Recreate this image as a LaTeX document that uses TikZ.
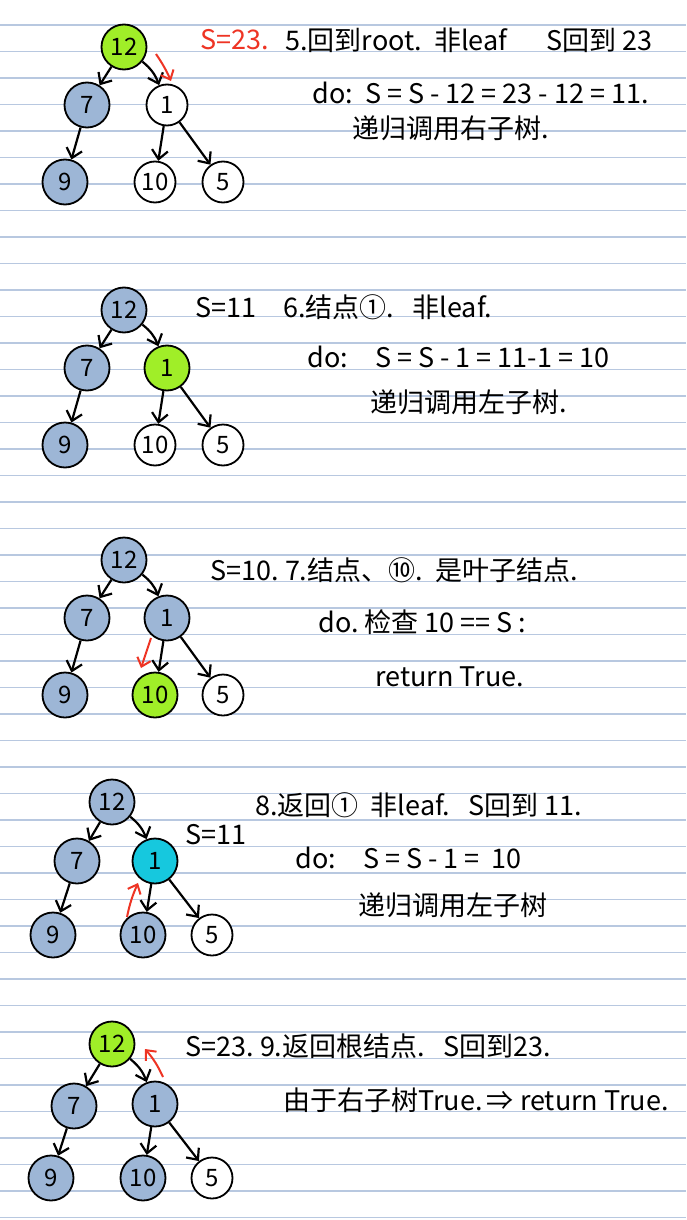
\documentclass[tikz,border=0pt]{standalone}
\usepackage{fontspec}
\newfontfamily\cjk{Noto Sans CJK SC}
\usetikzlibrary{arrows.meta, positioning}
\definecolor{rulecol}{RGB}{184,200,224}
\definecolor{nodeblue}{RGB}{157,182,214}
\definecolor{nodegreen}{RGB}{160,238,40}
\definecolor{nodecyan}{RGB}{22,200,222}
\definecolor{penred}{RGB}{238,52,36}

\begin{document}
\begin{tikzpicture}[x=0.5pt, y=-0.5pt,
    nd/.style={circle, draw, line width=0.9pt, fill=white, minimum size=20.5pt, inner sep=0pt,
               font=\cjk\fontsize{12}{12}\selectfont},
    visit/.style={nd, fill=nodeblue, minimum size=22.5pt},
    now/.style={nd, fill=nodegreen, minimum size=22.5pt},
    ret/.style={nd, fill=nodecyan, minimum size=22.5pt},
    arr/.style={-{Straight Barb[length=4.5pt, width=8pt]}, line width=1.1pt},
    redarr/.style={-{Straight Barb[length=4pt, width=7pt]}, line width=1pt, penred},
    note/.style={anchor=west, inner sep=0pt, font=\cjk\fontsize{13.5}{15}\selectfont},
    on grid,
]
    \fill[white] (0,0) rectangle (686,1220);
    \useasboundingbox (0,0) rectangle (686,1220);
    % ruled paper
    \foreach \k in {0,...,45}
        \draw[rulecol, line width=0.8pt] (0,{25+26.5*\k}) -- (686,{25+26.5*\k});

    % step 5
    \node[now] (r1) at (124,47) {12};
    \node[visit, below left=29pt and 18.5pt of r1] (s1) {7};
    \node[nd, below right=29pt and 21.5pt of r1] (o1) {1};
    \node[visit, below left=38.5pt and 11pt of s1] (n1) {9};
    \node[nd, below left=38.5pt and 6pt of o1] (t1) {10};
    \node[nd, below right=38.5pt and 28pt of o1] (f1) {5};
    \draw[arr] (r1) -- (s1);
    \draw[arr] (r1) to[bend left=15] (o1);
    \draw[arr] (s1) -- (n1);
    \draw[arr] (o1) -- (t1);
    \draw[arr] (o1) -- (f1);
    \coordinate (a1) at (156,54);
    \coordinate (b1) at (171,81);
    \draw[redarr] (a1) to[bend left=5] (b1);
    \node[note, text=penred] (sum1) at (200,40) {S=23.};
    \node[note] (l1a) at (285,40) {5.回到root.\ \ 非leaf\quad\ \ S回到\ 23};
    \node[note] (l1b) at (312,93) {do:\ \ S =\ S - 12 = 23 - 12 = 11.};
    \node[note] (l1c) at (352,128) {递归调用右子树.};

    % step 6
    \node[visit] (r2) at (124,310) {12};
    \node[visit, below left=29pt and 18.5pt of r2] (s2) {7};
    \node[now, below right=29pt and 21.5pt of r2] (o2) {1};
    \node[visit, below left=38.5pt and 11pt of s2] (n2) {9};
    \node[nd, below left=38.5pt and 6pt of o2] (t2) {10};
    \node[nd, below right=38.5pt and 28pt of o2] (f2) {5};
    \draw[arr] (r2) -- (s2);
    \draw[arr] (r2) to[bend left=15] (o2);
    \draw[arr] (s2) -- (n2);
    \draw[arr] (o2) -- (t2);
    \draw[arr] (o2) -- (f2);
    \node[note] (l2a) at (195,307) {S=11\quad 6.结点①.\ \ \ 非leaf.};
    \node[note] (l2b) at (307,357) {do:\quad S = S - 1 = 11-1 = 10};
    \node[note] (l2c) at (370,402) {递归调用左子树.};

    % step 7
    \node[visit] (r3) at (124,560) {12};
    \node[visit, below left=29pt and 18.5pt of r3] (s3) {7};
    \node[visit, below right=29pt and 21.5pt of r3] (o3) {1};
    \node[visit, below left=38.5pt and 11pt of s3] (n3) {9};
    \node[now, below left=38.5pt and 6pt of o3] (t3) {10};
    \node[nd, below right=38.5pt and 28pt of o3] (f3) {5};
    \draw[arr] (r3) -- (s3);
    \draw[arr] (r3) to[bend left=15] (o3);
    \draw[arr] (s3) -- (n3);
    \draw[arr] (o3) -- (t3);
    \draw[arr] (o3) -- (f3);
    \coordinate (a3) at (151,638);
    \coordinate (b3) at (141,668);
    \draw[redarr] (a3) -- (b3);
    \node[note] (l3a) at (210,570) {S=10.\ 7.结点、⑩.\ \ 是叶子结点.};
    \node[note] (l3b) at (318,622) {do.\ 检查\ 10 == S\ :};
    \node[note] (l3c) at (375,677) {return True.};

    % step 8
    \node[visit] (r4) at (112,802) {12};
    \node[visit, below left=29.5pt and 17.5pt of r4] (s4) {7};
    \node[ret, below right=29.5pt and 21.5pt of r4] (o4) {1};
    \node[visit, below left=37pt and 12pt of s4] (n4) {9};
    \node[visit, below left=37pt and 6pt of o4] (t4) {10};
    \node[nd, below right=37pt and 28.5pt of o4] (f4) {5};
    \draw[arr] (r4) -- (s4);
    \draw[arr] (r4) to[bend left=15] (o4);
    \draw[arr] (s4) -- (n4);
    \draw[arr] (o4) -- (t4);
    \draw[arr] (o4) -- (f4);
    \coordinate (a4) at (127,917);
    \coordinate (b4) at (138,883);
    \draw[redarr] (a4) to[bend left=6] (b4);
    \node[note] (sum4) at (185,835) {S=11};
    \node[note] (l4a) at (255,805) {8.返回①\ \ 非leaf.\ \ \ S回到\ 11.};
    \node[note] (l4b) at (295,858) {do:\quad S = S - 1 = \ 10};
    \node[note] (l4c) at (358,905) {递归调用左子树};

    % step 9
    \node[now] (r5) at (112,1044) {12};
    \node[visit, below left=31pt and 19pt of r5] (s5) {7};
    \node[visit, below right=30pt and 21.5pt of r5] (o5) {1};
    \node[visit, below left=36pt and 11.5pt of s5] (n5) {9};
    \node[visit, below left=37pt and 6pt of o5] (t5) {10};
    \node[nd, below right=37pt and 28.5pt of o5] (f5) {5};
    \draw[arr] (r5) -- (s5);
    \draw[arr] (r5) to[bend left=15] (o5);
    \draw[arr] (s5) -- (n5);
    \draw[arr] (o5) -- (t5);
    \draw[arr] (o5) -- (f5);
    \coordinate (a5) at (163,1077);
    \coordinate (b5) at (145,1049);
    \draw[redarr] (a5) to[bend right=8] (b5);
    \node[note] (l5a) at (185,1046) {S=23.\ 9.返回根结点.\ \ \ S回到23.};
    \node[note] (l5b) at (283,1100) {由于右子树True.\,⇒\ return True.};
\end{tikzpicture}
\end{document}
